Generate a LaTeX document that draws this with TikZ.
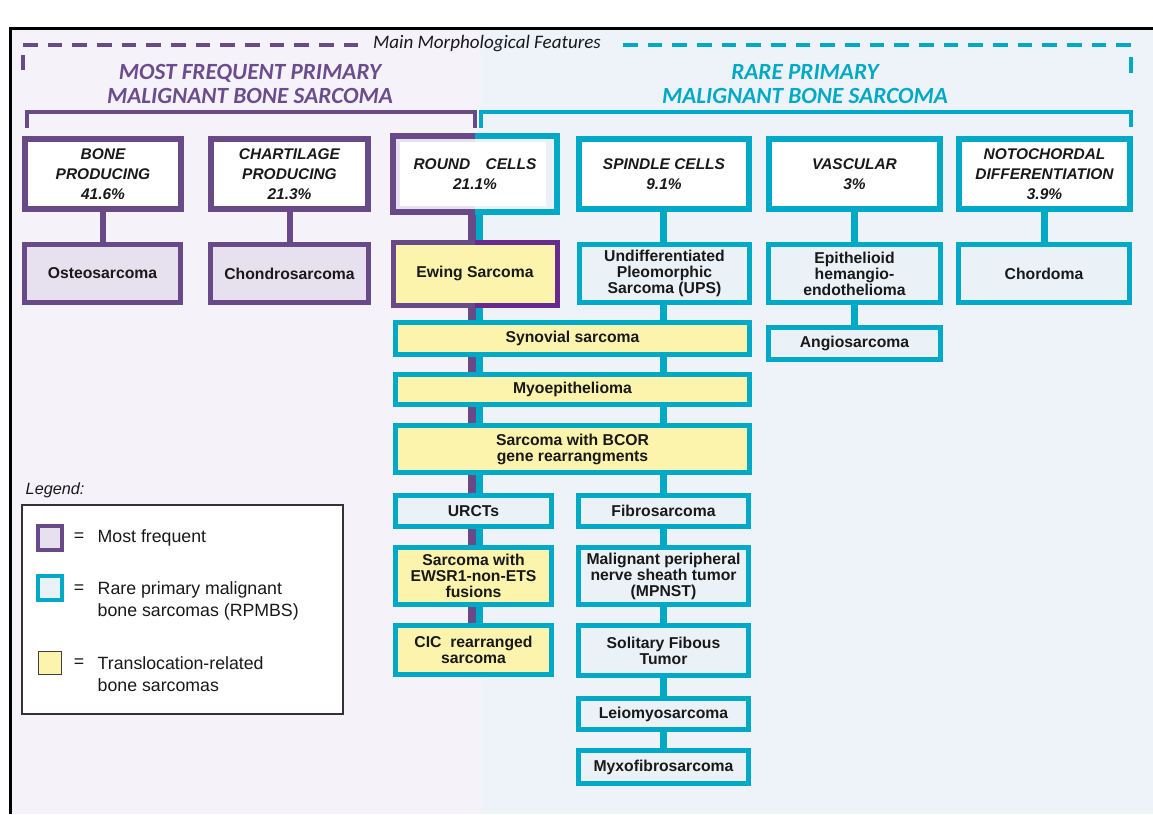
\documentclass[tikz,border=0pt]{standalone}
\usepackage{fontspec}
\setmainfont{Liberation Sans}
\newfontfamily\calfont{Carlito}
\usetikzlibrary{calc}
\pgfdeclarelayer{back}\pgfdeclarelayer{lines}\pgfdeclarelayer{fills}
\pgfsetlayers{back,lines,fills,main}
\definecolor{pur}{RGB}{105,74,136}
\definecolor{pur2}{RGB}{104,42,140}
\definecolor{tea}{RGB}{0,169,198}
\definecolor{lav}{RGB}{231,225,239}
\definecolor{lbl}{RGB}{234,242,248}
\definecolor{ylw}{RGB}{252,243,173}
\definecolor{bgl}{RGB}{245,243,249}
\definecolor{bgr}{RGB}{238,243,250}
\definecolor{ptxt}{RGB}{107,76,142}
\definecolor{ttxt}{RGB}{0,169,198}
\definecolor{ink}{RGB}{25,25,25}
\begin{document}
\begin{tikzpicture}[x=0.75pt,y=-0.75pt,
  sz/.style 2 args={minimum width=#1*0.75pt, minimum height=#2*0.75pt},
  hdr/.style={fill=white, line width=4.5pt, inner sep=0pt, align=center, text=ink,
    font=\fontsize{11.6}{15}\selectfont\bfseries\itshape},
  leaf/.style={line width=3.75pt, inner sep=0pt, align=center, text=ink,
    font=\fontsize{11.8}{12}\selectfont\bfseries},
  pbox/.style={draw=pur},
  tbox/.style={draw=tea},
  title/.style={align=center, font=\calfont\bfseries\itshape\fontsize{17.4}{17.5}\selectfont},
  pline/.style={pur, line width=4.5pt},
  tline/.style={tea, line width=5.25pt},
  headline/.style={line width=2.6pt},
  legtext/.style={anchor=west, align=left, text=ink, font=\fontsize{13.3}{16.5}\selectfont},
  eqsign/.style={text=ink, font=\fontsize{13.3}{16.5}\selectfont}
]
\useasboundingbox (0,0) rectangle (1153,814);
\begin{pgfonlayer}{back}
\fill[white] (0,0) rectangle (1153,814);
\fill[bgl] (10,28) rectangle (481,814);
\fill[bgr] (481,28) rectangle (1153,814);
\draw[black, line width=2.3pt] (10.5,814) -- (10.5,28.5) -- (1153,28.5);
\end{pgfonlayer}

% header
\node[font=\calfont\itshape\fontsize{14.3}{16}\selectfont, text=ink] (mmf) at (487,44) {Main Morphological Features};
\draw[pur, headline, dash pattern=on 11pt off 7.5pt] (23,45) -- (358,45);
\draw[pur, headline] (23,55) -- (23,70);
\draw[tea, headline, dash pattern=on 11pt off 7.5pt] (1131,45) -- (614,45);
\draw[tea, headline] (1131,57) -- (1131,73);

\node[title, text=ptxt] (tl) at (250,84) {MOST FREQUENT PRIMARY\\MALIGNANT BONE SARCOMA};
\node[title, text=ttxt] (tr) at (805,84) {RARE PRIMARY\\MALIGNANT BONE SARCOMA};

\draw[pur, headline] (27,128) -- (27,112) -- (475,112) -- (475,128);
\draw[tea, headline] (481,128) -- (481,112) -- (1131,112) -- (1131,127);

% category boxes
\node[hdr, pbox, sz={156}{70}] (bone) at (103,174) {BONE\\PRODUCING\\41.6\%};
\node[hdr, pbox, sz={157}{70}] (cart) at (289.5,174) {CHARTILAGE\\PRODUCING\\21.3\%};
\node[hdr, fill=none, sz={158}{70}] (round) at (475,174) {ROUND\quad CELLS\\21.1\%};
\node[hdr, tbox, sz={170}{70}] (spindle) at (664,174) {SPINDLE CELLS\\9.1\%};
\node[hdr, tbox, sz={171}{70}] (vasc) at (854.5,174) {VASCULAR\\3\%};
\node[hdr, tbox, sz={171}{70}] (noto) at (1044.5,174) {NOTOCHORDAL\\DIFFERENTIATION\\3.9\%};

% second row
\node[leaf, pbox, fill=lav, sz={156}{58}] (osteo) at (102.5,273.5) {Osteosarcoma};
\node[leaf, pbox, fill=lav, sz={158}{58}] (chondro) at (289.5,273.5) {Chondrosarcoma};
\node[leaf, fill=ylw, sz={159}{58}] (ewing) at (475,273.5) {Ewing Sarcoma};
\node[leaf, tbox, fill=lbl, sz={170}{58}] (ups) at (664.5,273.5) {Undifferentiated\\Pleomorphic\\Sarcoma (UPS)};
\node[leaf, tbox, fill=lbl, sz={172}{58}] (epith) at (854.5,273.5) {Epithelioid\\hemangio-\\endothelioma};
\node[leaf, tbox, fill=lbl, sz={171}{58}] (chordoma) at (1044,273.5) {Chordoma};
\node[leaf, tbox, fill=lbl, sz={172}{32}] (angio) at (854.5,343.5) {Angiosarcoma};

% wide boxes
\node[leaf, tbox, fill=ylw, sz={354}{32}] (synovial) at (572.5,338.5) {Synovial sarcoma};
\node[leaf, tbox, fill=ylw, sz={354}{30}] (myo) at (572.5,389.5) {Myoepithelioma};
\node[leaf, tbox, fill=ylw, sz={354}{47}] (bcor) at (572.5,449) {Sarcoma with BCOR\\gene rearrangments};

% lower rows
\node[leaf, tbox, fill=lbl, sz={156}{31}] (urcts) at (473.5,511) {URCTs};
\node[leaf, tbox, fill=ylw, sz={156}{57}] (ewsr) at (473.5,576) {Sarcoma with\\EWSR1-non-ETS\\fusions};
\node[leaf, tbox, fill=ylw, sz={156}{49}] (cic) at (473.5,650) {CIC\ \ rearranged\\sarcoma};
\node[leaf, tbox, fill=lbl, sz={170}{31}] (fibro) at (663.5,511) {Fibrosarcoma};
\node[leaf, tbox, fill=lbl, sz={170}{57}] (mpnst) at (663.5,576) {Malignant peripheral\\nerve sheath tumor\\(MPNST)};
\node[leaf, tbox, fill=lbl, sz={170}{50}] (sft) at (663.5,650.5) {Solitary Fibous\\Tumor};
\node[leaf, tbox, fill=lbl, sz={170}{31}] (leio) at (663.5,714) {Leiomyosarcoma};
\node[leaf, tbox, fill=lbl, sz={170}{33}] (myxo) at (663.5,767) {Myxofibrosarcoma};

% round cells box fills and split border
\begin{pgfonlayer}{fills}
\fill[lav] (round.north west) rectangle (round.south);
\fill[lbl] (round.north) rectangle (round.south east);
\fill[white] ($(round.north west)+(7,6)$) rectangle ($(round.south east)+(-11,-6)$);
\end{pgfonlayer}
\begin{scope}
\clip ($(round.north west)+(-10,-10)$) rectangle ($(round.south)+(0,10)$);
\draw[pur, line width=4.5pt] (round.north west) rectangle (round.south east);
\end{scope}
\begin{scope}
\clip ($(round.north)+(0,-10)$) rectangle ($(round.south east)+(10,10)$);
\draw[tea, line width=4.5pt] (round.north west) rectangle (round.south east);
\end{scope}
\begin{scope}
\clip ($(ewing.north west)+(-10,-10)$) rectangle ($(ewing.south)+(0,10)$);
\draw[pur, line width=3.75pt] (ewing.north west) rectangle (ewing.south east);
\end{scope}
\begin{scope}
\clip ($(ewing.north)+(0,-10)$) rectangle ($(ewing.south east)+(10,10)$);
\draw[pur2, line width=3.75pt] (ewing.north west) rectangle (ewing.south east);
\end{scope}

% connectors
\coordinate (rp) at ([xshift=-2.25pt]round.south);
\coordinate (rt) at ([xshift=3.375pt]round.south);
\coordinate (sc) at ([xshift=-0.75pt]spindle.south);
\begin{pgfonlayer}{lines}
\draw[pline] (bone.south) -- (bone.south |- osteo.north);
\draw[pline] (cart.south) -- (cart.south |- chondro.north);
\draw[tline] (vasc.south) -- (vasc.south |- epith.north);
\draw[tline] (epith.south) -- (epith.south |- angio.north);
\draw[tline] (noto.south) -- (noto.south |- chordoma.north);
\foreach \a/\b in {round/ewing, ewing/synovial, synovial/myo, myo/bcor, bcor/urcts, urcts/ewsr, ewsr/cic}{
  \draw[pur, line width=6pt] (rp |- \a.south) -- (rp |- \b.north);
  \draw[tea, line width=5.25pt] (rt |- \a.south) -- (rt |- \b.north);
}
\foreach \a/\b in {spindle/ups, ups/synovial, synovial/myo, myo/bcor, bcor/fibro, fibro/mpnst, mpnst/sft, sft/leio, leio/myxo}{
  \draw[tline] (sc |- \a.south) -- (sc |- \b.north);
}
\end{pgfonlayer}

% legend
\node[anchor=west, text=ink, font=\itshape\fontsize{12.2}{14}\selectfont] (legt) at (21,490) {Legend:};
\node[draw=black!80, line width=0.9pt, fill=white, sz={321}{209}, inner sep=0pt] (leg) at (182.5,609.5) {};
\node[draw=pur, fill=lav, line width=3pt, sz={24}{24}, inner sep=0pt] (sq1) at (50,538) {};
\node[draw=tea, fill=lbl, line width=3pt, sz={24}{24}, inner sep=0pt] (sq2) at (50,588) {};
\node[draw=black!75, fill=ylw, line width=0.8pt, sz={23}{23}, inner sep=0pt] (sq3) at (50,663) {};
\node[eqsign] (eq1) at (79,537) {=};
\node[eqsign] (eq2) at (79,589) {=};
\node[eqsign] (eq3) at (79,663) {=};
\node[legtext] (lt1) at (93,538) {Most frequent};
\node[legtext] (lt2) at (93,601) {Rare primary malignant\\bone sarcomas (RPMBS)};
\node[legtext] (lt3) at (93,674) {Translocation-related\\bone sarcomas};
\end{tikzpicture}
\end{document}
